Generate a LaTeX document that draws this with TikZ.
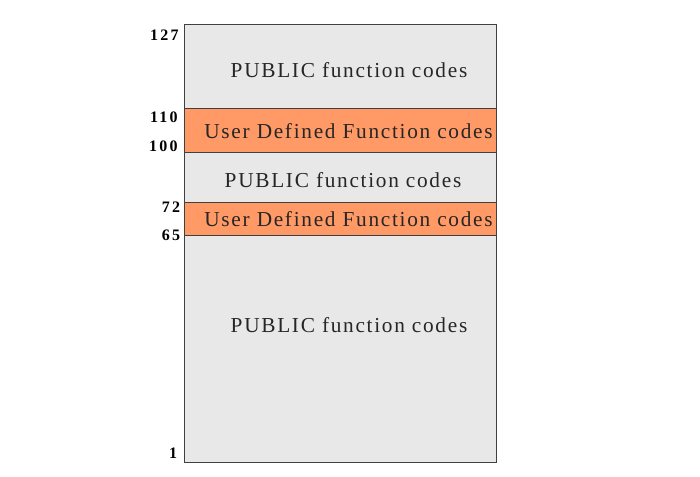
\documentclass[tikz,border=0pt]{standalone}
\usepackage{fontspec}
\setmainfont{Liberation Serif}
\newfontfamily\bandfont{Liberation Serif}[LetterSpace=8]
\newfontfamily\numfont{Liberation Serif}[LetterSpace=14]
\definecolor{codegray}{HTML}{E8E8E8}
\definecolor{userorange}{HTML}{FF9966}
\definecolor{edgegray}{HTML}{404040}
\tikzset{every picture/.style={line width=0.75pt}}
\tikzset{
	codetext/.style={anchor=base, inner sep=0pt, font=\bandfont\fontsize{21.3}{21.3}\selectfont, text=black!85},
	codenum/.style={anchor=base east, inner sep=0pt, font=\numfont\bfseries\fontsize{16}{16}\selectfont},
	band/.style={draw=edgegray, line width=1pt}
}

\begin{document}
\begin{tikzpicture}[x=1pt,y=-1pt]
		\useasboundingbox (0,0) rectangle (700,476);
		\draw[band, fill=codegray] (184,25) rectangle (496,462);
		\draw[band, fill=userorange] (184,108) rectangle (496,152);
		\draw[band, fill=userorange] (184,202) rectangle (496,235);
		\node (pubtop) at (349,77.5) [codetext] {PUBLIC function codes};
		\node (usertop) at (348.5,138.5) [codetext] {User Defined Function codes};
		\node (pubmid) at (343,187) [codetext] {PUBLIC function codes};
		\node (userlow) at (348.5,226) [codetext] {User Defined Function codes};
		\node (publow) at (349,332) [codetext] {PUBLIC function codes};
		\node (n127) at (179,40.5) [codenum] {127};
		\node (n110) at (178,122.3) [codenum] {110};
		\node (n100) at (178,151.5) [codenum] {100};
		\node (n72) at (180.5,212.5) [codenum] {72};
		\node (n65) at (180.5,240) [codenum] {65};
		\node (n1) at (177.5,458) [codenum] {1};
	\end{tikzpicture}
\end{document}
